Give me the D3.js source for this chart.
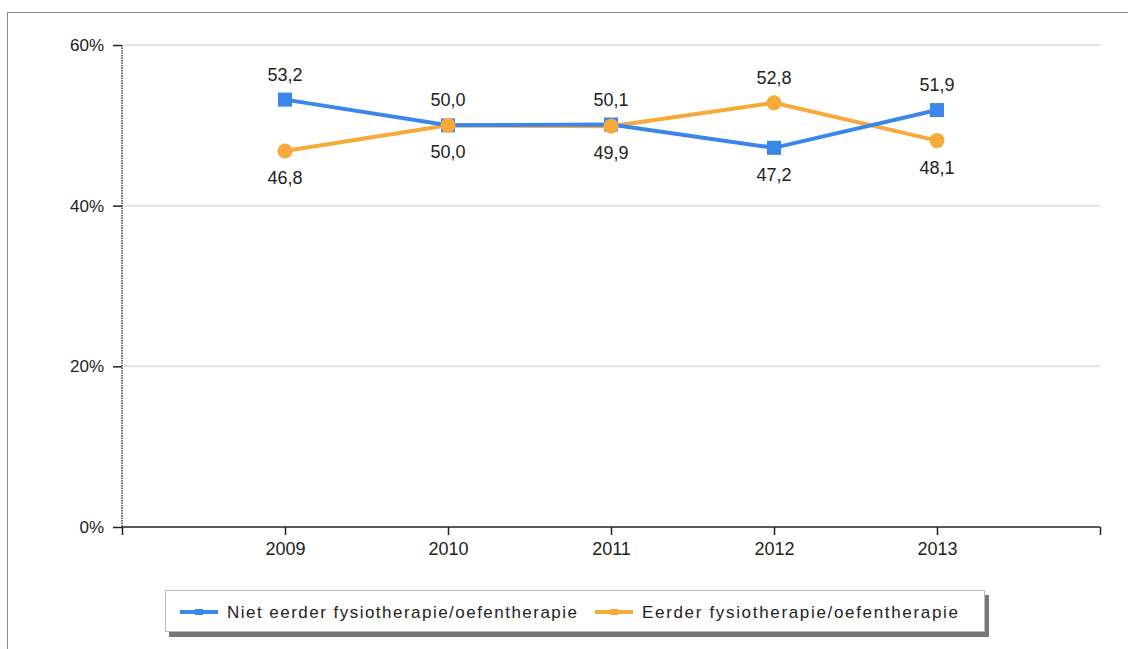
<!DOCTYPE html>
<html>
<head>
<meta charset="utf-8">
<script src="https://cdn.jsdelivr.net/npm/d3@7"></script>
<style>
  body { margin: 0; background: #fff; }
  text { font-family: "Liberation Sans", Arial, sans-serif; }
</style>
</head>
<body>
<div id="chart"></div>
<script>
var years = ["2009", "2010", "2011", "2012", "2013"];
var nietEerder = [53.2, 50.0, 50.1, 47.2, 51.9];
var eerder = [46.8, 50.0, 49.9, 52.8, 48.1];
var seriesNames = ["Niet eerder fysiotherapie/oefentherapie", "Eerder fysiotherapie/oefentherapie"];
var yTicks = [0, 20, 40, 60];

var svgWidth = 1128;
var svgHeight = 649;
var blue = "#3a86ea";
var orange = "#f7a93a";

var svg = d3.select("#chart")
  .append("svg")
  .attr("width", svgWidth)
  .attr("height", svgHeight);

// outer frame
svg.append("rect")
  .attr("x", 7.5).attr("y", 12.5)
  .attr("width", 1130).attr("height", 650)
  .attr("fill", "none").attr("stroke", "#8a8a8a").attr("stroke-width", 1);

var x = d3.scalePoint()
  .domain(["s"].concat(years).concat(["e"]))
  .range([122, 1100]);

var y = d3.scaleLinear()
  .domain([0, 60])
  .range([527, 45]);

// gridlines
svg.selectAll(".grid")
  .data(yTicks.filter(function(d) { return d > 0; }))
  .enter()
  .append("line")
  .attr("x1", 124).attr("x2", 1100)
  .attr("y1", function(d) { return y(d); })
  .attr("y2", function(d) { return y(d); })
  .attr("stroke", "#e3e3e3").attr("stroke-width", 2);

// y axis
var yAxis = svg.append("g")
  .attr("transform", "translate(122,0)")
  .call(d3.axisLeft(y).tickValues(yTicks).tickSize(9).tickPadding(9)
    .tickFormat(function(d) { return d + "%"; }));
yAxis.select(".domain").remove();
yAxis.selectAll(".tick line").attr("stroke", "#222").attr("stroke-width", 1.5);
yAxis.selectAll("text").attr("font-size", 17).attr("fill", "#222")
  .attr("font-family", "Liberation Sans, Arial, sans-serif");
svg.append("line")
  .attr("x1", 122).attr("x2", 122)
  .attr("y1", y(60)).attr("y2", y(0))
  .attr("stroke", "#444").attr("stroke-width", 1.5)
  .attr("stroke-dasharray", "1.5,1");

// x axis
var xAxis = svg.append("g")
  .attr("transform", "translate(0," + y(0) + ")")
  .call(d3.axisBottom(x).tickSize(8).tickPadding(7)
    .tickFormat(function(d) { return years.indexOf(d) >= 0 ? d : ""; }));
xAxis.select(".domain").attr("d", "M122,0H1100").attr("stroke", "#222").attr("stroke-width", 1.5);
xAxis.selectAll(".tick line").attr("stroke", "#222").attr("stroke-width", 1.5);
xAxis.selectAll("text").attr("font-size", 18).attr("fill", "#222")
  .attr("font-family", "Liberation Sans, Arial, sans-serif");

var line = d3.line()
  .x(function(d, i) { return x(years[i]); })
  .y(function(d) { return y(d); });

// orange series
svg.append("path")
  .datum(eerder)
  .attr("d", line)
  .attr("fill", "none").attr("stroke", orange).attr("stroke-width", 4);

// blue series
svg.append("path")
  .datum(nietEerder)
  .attr("d", line)
  .attr("fill", "none").attr("stroke", blue).attr("stroke-width", 4);

svg.selectAll(".sq")
  .data(nietEerder)
  .enter()
  .append("rect")
  .attr("x", function(d, i) { return x(years[i]) - 7; })
  .attr("y", function(d) { return y(d) - 7; })
  .attr("width", 14).attr("height", 14)
  .attr("fill", blue);

svg.selectAll(".dot")
  .data(eerder)
  .enter()
  .append("circle")
  .attr("cx", function(d, i) { return x(years[i]); })
  .attr("cy", function(d) { return y(d); })
  .attr("r", 7.5)
  .attr("fill", orange);

function fmt(v) { return v.toFixed(1).replace(".", ","); }

// labels: higher value above, lower below
svg.selectAll(".lblA")
  .data(nietEerder)
  .enter()
  .append("text")
  .attr("x", function(d, i) { return x(years[i]); })
  .attr("y", function(d, i) { return d >= eerder[i] ? y(d) - 19 : y(d) + 33; })
  .attr("text-anchor", "middle")
  .attr("font-size", 18).attr("fill", "#222")
  .text(fmt);

svg.selectAll(".lblB")
  .data(eerder)
  .enter()
  .append("text")
  .attr("x", function(d, i) { return x(years[i]); })
  .attr("y", function(d, i) { return d > nietEerder[i] ? y(d) - 19 : y(d) + 33; })
  .attr("text-anchor", "middle")
  .attr("font-size", 18).attr("fill", "#222")
  .text(fmt);

// legend
var lg = svg.append("g");
lg.append("rect")
  .attr("x", 169).attr("y", 595).attr("width", 820).attr("height", 42)
  .attr("fill", "#777");
lg.append("rect")
  .attr("x", 165.5).attr("y", 590.5).attr("width", 819).attr("height", 41)
  .attr("fill", "#fff").attr("stroke", "#bbb");

var legendItems = [
  { name: seriesNames[0], color: blue, x: 180, w: 350 },
  { name: seriesNames[1], color: orange, x: 595, w: 316 }
];
legendItems.forEach(function(it) {
  lg.append("line")
    .attr("x1", it.x).attr("x2", it.x + 38)
    .attr("y1", 612).attr("y2", 612)
    .attr("stroke", it.color).attr("stroke-width", 4);
  lg.append("rect")
    .attr("x", it.x + 15).attr("y", 609).attr("width", 8).attr("height", 6)
    .attr("fill", it.color);
  lg.append("text")
    .attr("x", it.x + 47).attr("y", 618)
    .attr("font-size", 17).attr("fill", "#222")
    .attr("textLength", it.w).attr("lengthAdjust", "spacing")
    .text(it.name);
});
</script>
</body>
</html>
